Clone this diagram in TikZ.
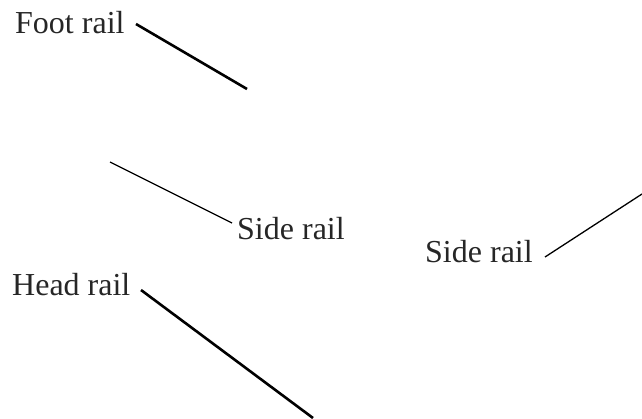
\documentclass[tikz,border=0pt]{standalone}
\usepackage{fontspec}
\setmainfont{Liberation Serif}
\begin{document}
\begin{tikzpicture}[x=1pt,y=-1pt,
    lbl/.style={inner sep=0pt,anchor=base west,font=\fontsize{32}{37}\selectfont,text=black!85},
    heavy/.style={line width=2.6pt},
    light/.style={line width=1.3pt}]
    \useasboundingbox (0,0) rectangle (642,418);

    % labels
    \node[lbl] (foot) at (15,33) {Foot rail};
    \node[lbl] (sidel) at (237,239) {Side rail};
    \node[lbl] (sider) at (425,262) {Side rail};
    \node[lbl] (head) at (12,295) {Head rail};

    % leader ends
    \coordinate (foot-a) at (136,24);
    \coordinate (foot-b) at (247,89);
    \coordinate (sidel-a) at (110,162);
    \coordinate (sidel-b) at (232,223);
    \coordinate (sider-a) at (545,257);
    \coordinate (sider-b) at (642,194);
    \coordinate (head-a) at (141,290);
    \coordinate (head-b) at (313,418);

    \draw[heavy] (foot-a) -- (foot-b);
    \draw[light] (sidel-a) -- (sidel-b);
    \draw[light] (sider-a) -- (sider-b);
    \draw[heavy] (head-a) -- (head-b);
\end{tikzpicture}
\end{document}
